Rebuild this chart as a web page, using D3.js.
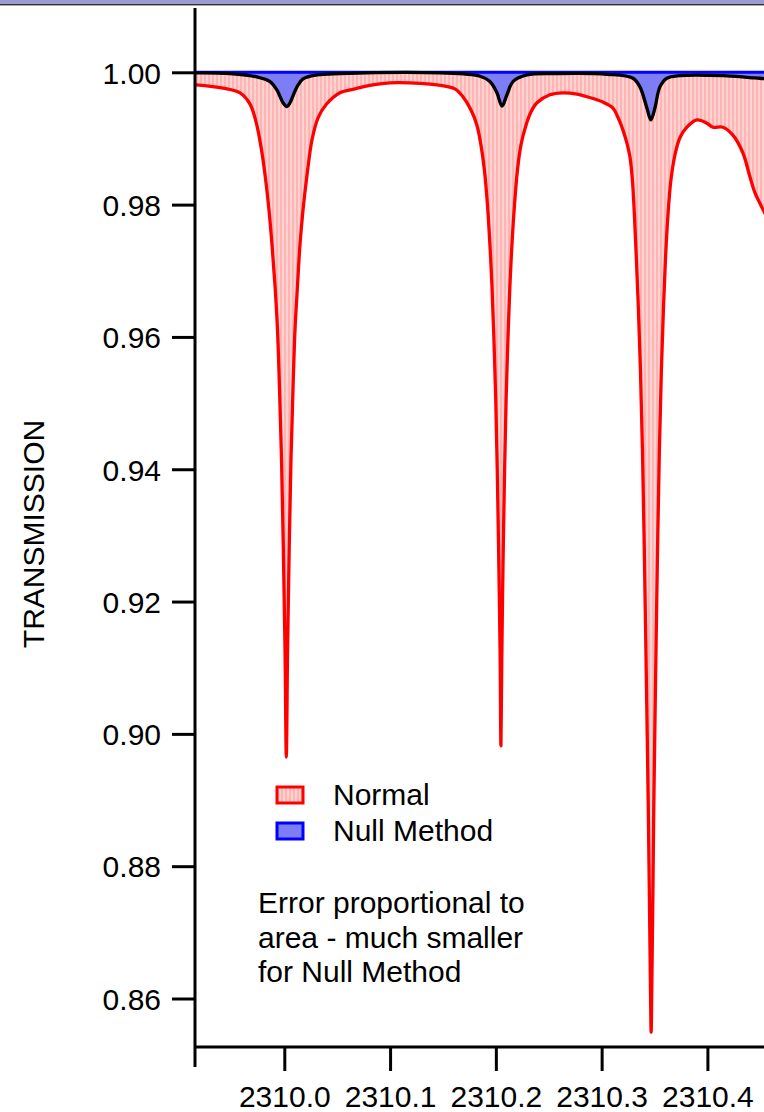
<!DOCTYPE html>
<html>
<head>
<meta charset="utf-8">
<script src="https://cdn.jsdelivr.net/npm/d3@7"></script>
<style>
	html, body { margin: 0; padding: 0; background: #fff; }
	svg { display: block; }
	text { font-family: "Liberation Sans", Arial, sans-serif; fill: #000; }
</style>
</head>
<body>
<script>
// wavelength / transmission
var normalWl = [2309.9165, 2309.9421, 2309.9581,
	2309.9676, 2309.9733, 2309.9780, 2309.9818, 2309.9855, 2309.9884, 2309.9912, 2309.9936, 2309.9955,
	2309.9974, 2309.9991, 2310.0007, 2310.0019, 2310.0031, 2310.0046, 2310.0063, 2310.0082, 2310.0101,
	2310.0125, 2310.0148, 2310.0177, 2310.0215, 2310.0262, 2310.0319, 2310.0394, 2310.0526,
	2310.0668, 2310.0838, 2310.0999, 2310.1188, 2310.1377, 2310.1519,
	2310.1613, 2310.1689, 2310.1765, 2310.1821, 2310.1859, 2310.1892, 2310.1921, 2310.1944, 2310.1963,
	2310.1982, 2310.1999, 2310.2015, 2310.2029, 2310.2041, 2310.2048, 2310.2056, 2310.2067, 2310.2081,
	2310.2097, 2310.2114, 2310.2133, 2310.2152, 2310.2176, 2310.2204, 2310.2237, 2310.2285, 2310.2332,
	2310.2389, 2310.2511,
	2310.2634, 2310.2767, 2310.2861, 2310.3012,
	2310.3107, 2310.3154, 2310.3201, 2310.3239, 2310.3268, 2310.3291, 2310.3310, 2310.3329, 2310.3348,
	2310.3367, 2310.3386, 2310.3405, 2310.3423, 2310.3440, 2310.3453, 2310.3462, 2310.3468, 2310.3474,
	2310.3483, 2310.3494, 2310.3510, 2310.3527, 2310.3546, 2310.3565, 2310.3584, 2310.3603, 2310.3627,
	2310.3655, 2310.3693, 2310.3740, 2310.3806,
	2310.3901, 2310.3995, 2310.4052, 2310.4147, 2310.4241, 2310.4336, 2310.4402, 2310.4449, 2310.4496, 2310.4553];
var normalT = [0.9981, 0.9976, 0.9969,
	0.9952, 0.9925, 0.9887, 0.9845, 0.9792, 0.9739, 0.9678, 0.9610, 0.9520,
	0.9414, 0.9278, 0.9127, 0.8965, 0.9127, 0.9278, 0.9414, 0.9520, 0.9610,
	0.9678, 0.9739, 0.9792, 0.9845, 0.9898, 0.9931, 0.9951, 0.9969,
	0.9975, 0.9981, 0.9984, 0.9984, 0.9982, 0.9979,
	0.9975, 0.9963, 0.9943, 0.9920, 0.9890, 0.9852, 0.9799, 0.9739, 0.9678,
	0.9595, 0.9505, 0.9384, 0.9248, 0.9112, 0.8982, 0.9112, 0.9248, 0.9384,
	0.9505, 0.9595, 0.9678, 0.9739, 0.9799, 0.9852, 0.9890, 0.9920, 0.9940,
	0.9954, 0.9966,
	0.9969, 0.9967, 0.9963, 0.9955,
	0.9946, 0.9932, 0.9913, 0.9893, 0.9872, 0.9837, 0.9784, 0.9716, 0.9641,
	0.9550, 0.9429, 0.9263, 0.9081, 0.8900, 0.8734, 0.8613, 0.8549, 0.8613,
	0.8734, 0.8900, 0.9081, 0.9263, 0.9429, 0.9550, 0.9641, 0.9716, 0.9784,
	0.9837, 0.9875, 0.9901, 0.9917,
	0.9928, 0.9923, 0.9917, 0.9917, 0.9905, 0.9878, 0.9842, 0.9818, 0.9802, 0.9784];

var nullWl = [2309.9165, 2309.9487, 2309.9742, 2309.9865, 2309.9931, 2309.9988, 2310.0026, 2310.0054,
	2310.0120, 2310.0177, 2310.0309, 2310.0526, 2310.1472, 2310.1850, 2310.1944, 2310.2010, 2310.2058,
	2310.2105, 2310.2162, 2310.2294, 2310.2578, 2310.3050, 2310.3296, 2310.3362, 2310.3428, 2310.3466,
	2310.3504, 2310.3551, 2310.3617, 2310.3740, 2310.4147, 2310.4402, 2310.4496, 2310.4553];
var nullT = [0.9999, 0.9998, 0.9993, 0.9986, 0.9973, 0.9954, 0.9948, 0.9954,
	0.9978, 0.9990, 0.9996, 0.9998, 0.9999, 0.9994, 0.9986, 0.9969, 0.9949,
	0.9966, 0.9986, 0.9996, 0.9998, 0.9997, 0.9991, 0.9978, 0.9946, 0.9928,
	0.9946, 0.9978, 0.9991, 0.9995, 0.9995, 0.9992, 0.9991, 0.9990];

var yTicks = [0.86, 0.88, 0.90, 0.92, 0.94, 0.96, 0.98, 1.00];
var xTicks = [2310.0, 2310.1, 2310.2, 2310.3, 2310.4];
var legendNames = ["Normal", "Null Method"];
var noteLines = ["Error proportional to", "area - much smaller", "for Null Method"];

var W = 764, H = 1112;
var padL = 195, padR = 764, padT = 8, padB = 1047;
var fs = 30;

var x = d3.scaleLinear().domain([2310.0, 2310.4]).range([284.3, 707.4]);
var y = d3.scaleLinear().domain([0.86, 1.00]).range([998.5, 72.3]);

var normal = normalWl.map(function(d, i){ return {x: d, y: normalT[i]}; });
var nul = nullWl.map(function(d, i){ return {x: d, y: nullT[i]}; });

var svg = d3.select('body').append('svg')
	.attr('width', W)
	.attr('height', H);

var defs = svg.append('defs');
var pat = defs.append('pattern')
	.attr('id', 'pinkHatch')
	.attr('patternUnits', 'userSpaceOnUse')
	.attr('width', 4)
	.attr('height', 4);
pat.append('rect').attr('width', 4).attr('height', 4).attr('fill', '#ffd2d2');
pat.append('rect').attr('width', 2).attr('height', 4).attr('fill', '#ffb4b4');

defs.append('clipPath').attr('id', 'plotClip')
	.append('rect')
	.attr('x', padL + 1).attr('y', padT)
	.attr('width', padR - padL).attr('height', padB - padT);

// window edge at top
svg.append('rect').attr('x', 0).attr('y', 0).attr('width', W).attr('height', 4).attr('fill', '#9c9cd2');
svg.append('rect').attr('x', 0).attr('y', 4).attr('width', W).attr('height', 1).attr('fill', '#333');
svg.append('rect').attr('x', 0).attr('y', 5).attr('width', W).attr('height', 1).attr('fill', '#a8a8a8');

var plot = svg.append('g').attr('clip-path', 'url(#plotClip)');

var curve = d3.curveCatmullRom.alpha(0.5);

var area = d3.area()
	.x(function(d){ return x(d.x); })
	.y0(y(1.0))
	.y1(function(d){ return y(d.y); })
	.curve(curve);

var line = d3.line()
	.x(function(d){ return x(d.x); })
	.y(function(d){ return y(d.y); })
	.curve(curve);

plot.append('path').datum(normal)
	.attr('d', area)
	.attr('fill', 'url(#pinkHatch)');

plot.append('path').datum(nul)
	.attr('d', area)
	.attr('fill', '#7d7df5');

plot.append('path').datum(normal)
	.attr('d', line)
	.attr('fill', 'none')
	.attr('stroke', '#ff0000')
	.attr('stroke-width', 3.3)
	.attr('stroke-linejoin', 'round');

plot.append('line')
	.attr('x1', padL).attr('x2', padR)
	.attr('y1', y(1.0)).attr('y2', y(1.0))
	.attr('stroke', '#0000ff')
	.attr('stroke-width', 3);

plot.append('path').datum(nul)
	.attr('d', line)
	.attr('fill', 'none')
	.attr('stroke', '#000')
	.attr('stroke-width', 3.3)
	.attr('stroke-linejoin', 'round');

// axes
var yAxis = d3.axisLeft(y)
	.tickValues(yTicks)
	.tickSize(23)
	.tickPadding(11)
	.tickFormat(d3.format('.2f'));

var gy = svg.append('g')
	.attr('transform', 'translate(' + padL + ',0)')
	.call(yAxis);
gy.select('.domain').remove();
gy.selectAll('line').attr('stroke', '#000').attr('stroke-width', 3);
gy.selectAll('text')
	.attr('font-size', fs)
	.attr('font-family', '"Liberation Sans", Arial, sans-serif')
	.attr('dy', '0.36em');

var xAxis = d3.axisBottom(x)
	.tickValues(xTicks)
	.tickSize(24)
	.tickPadding(15)
	.tickFormat(d3.format('.1f'));

var gx = svg.append('g')
	.attr('transform', 'translate(0,' + padB + ')')
	.call(xAxis);
gx.select('.domain').remove();
gx.selectAll('line').attr('stroke', '#000').attr('stroke-width', 3);
gx.selectAll('text')
	.attr('font-size', fs)
	.attr('font-family', '"Liberation Sans", Arial, sans-serif');

svg.append('line')
	.attr('x1', padL).attr('x2', padL)
	.attr('y1', padT).attr('y2', 1067)
	.attr('stroke', '#000').attr('stroke-width', 3);
svg.append('line')
	.attr('x1', padL).attr('x2', padR)
	.attr('y1', padB).attr('y2', padB)
	.attr('stroke', '#000').attr('stroke-width', 3);

svg.append('text')
	.attr('transform', 'translate(44,534) rotate(-90)')
	.attr('text-anchor', 'middle')
	.attr('font-size', fs)
	.text('TRANSMISSION');

// legend
var legendFill = ['url(#pinkHatch)', '#7d7df5'];
var legendStroke = ['#ff0000', '#0000ff'];
var lg = svg.append('g').attr('transform', 'translate(277,787)');
legendNames.forEach(function(name, i){
	lg.append('rect')
		.attr('x', 0).attr('y', i * 36)
		.attr('width', 26).attr('height', 16)
		.attr('fill', legendFill[i])
		.attr('stroke', legendStroke[i])
		.attr('stroke-width', 3);
	lg.append('text')
		.attr('x', 56).attr('y', i * 36 + 18)
		.attr('font-size', fs)
		.text(name);
});

var note = svg.append('text')
	.attr('x', 258)
	.attr('y', 913)
	.attr('font-size', fs);
noteLines.forEach(function(s, i){
	note.append('tspan').attr('x', 258).attr('dy', i == 0 ? 0 : 34.5).text(s);
});
</script>
</body>
</html>
